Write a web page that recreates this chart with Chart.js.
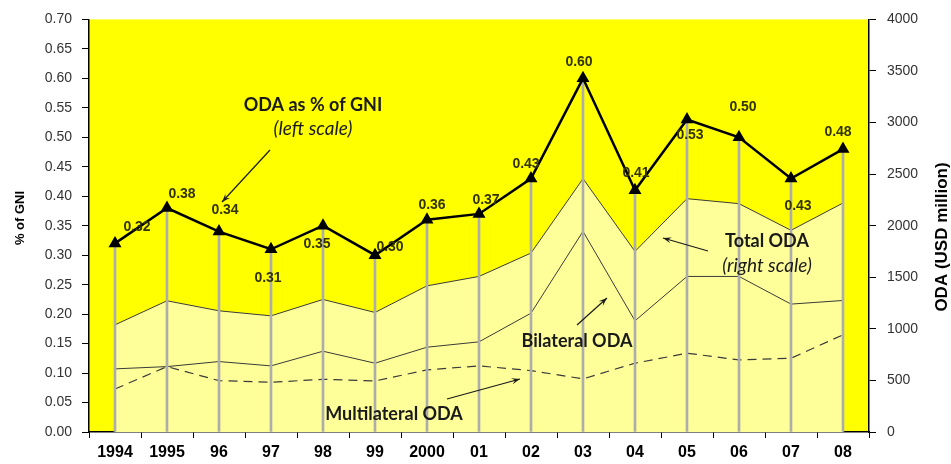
<!DOCTYPE html>
<html>
<head>
<meta charset="utf-8">
<script src="https://cdn.jsdelivr.net/npm/chart.js@4.4.1/dist/chart.umd.min.js"></script>
<style>
  body { margin: 0; background: #fff; }
  canvas { display: block; }
</style>
</head>
<body>
<canvas id="grafico" width="951" height="464"></canvas>
<script>
// data
const years = ["1994", "1995", "96", "97", "98", "99", "2000", "01", "02", "03", "04", "05", "06", "07", "08"];
const odaGni = [0.32, 0.38, 0.34, 0.31, 0.35, 0.30, 0.36, 0.37, 0.43, 0.60, 0.41, 0.53, 0.50, 0.43, 0.48];
const totalOda = [1039, 1272, 1175, 1126, 1285, 1159, 1417, 1508, 1735, 2456, 1751, 2262, 2214, 1955, 2220];
const bilateralOda = [612, 634, 683, 641, 783, 667, 822, 874, 1152, 1945, 1078, 1508, 1508, 1240, 1275];
const multilateralOda = [417, 634, 498, 482, 511, 495, 602, 641, 595, 515, 667, 764, 699, 715, 942];
const leftTicks = { min: 0, max: 0.7, step: 0.05 };
const rightTicks = { min: 0, max: 4000, step: 500 };

// where each % label sits relative to its point
const labelOffsets = [[22, -16], [15, -14], [6, -21], [-3, 29], [-6, 18], [15, -8], [5, -15], [7, -14],
  [-5, -14], [-4, -16], [1, -17], [3, 16], [4, -30], [7, 28], [-5, -17]];

const notas = [
  { text: "ODA as % of GNI", x: 313, y: 105, italic: false },
  { text: "(left scale)", x: 313, y: 129, italic: true },
  { text: "Total ODA", x: 767, y: 241, italic: false },
  { text: "(right scale)", x: 767, y: 266, italic: true },
  { text: "Bilateral ODA", x: 577, y: 341, italic: false },
  { text: "Multilateral ODA", x: 394, y: 414, italic: false }
];
const flechas = [
  [270, 150, 222, 202],
  [708, 251, 663, 238],
  [577, 325, 607, 298],
  [447, 399, 520, 379]
];

function flecha(ctx, x1, y1, x2, y2) {
  const a = Math.atan2(y2 - y1, x2 - x1);
  ctx.beginPath();
  ctx.moveTo(x1, y1);
  ctx.lineTo(x2, y2);
  ctx.stroke();
  ctx.beginPath();
  ctx.moveTo(x2, y2);
  ctx.lineTo(x2 - 9 * Math.cos(a - 0.35), y2 - 9 * Math.sin(a - 0.35));
  ctx.lineTo(x2 - 5 * Math.cos(a), y2 - 5 * Math.sin(a));
  ctx.lineTo(x2 - 9 * Math.cos(a + 0.35), y2 - 9 * Math.sin(a + 0.35));
  ctx.closePath();
  ctx.fill();
}

const fondo = {
  id: "fondo",
  beforeDraw(chart) {
    const { ctx, chartArea: a } = chart;
    ctx.save();
    ctx.fillStyle = "#ffff00";
    ctx.fillRect(a.left, a.top, a.right - a.left, a.bottom - a.top);
    ctx.restore();
  }
};

const textos = {
  id: "textos",
  afterDraw(chart) {
    const ctx = chart.ctx;
    const meta = chart.getDatasetMeta(4);
    ctx.save();
    // % labels
    ctx.font = "bold 14px 'Liberation Sans', Arial, sans-serif";
    ctx.fillStyle = "#333300";
    ctx.textAlign = "center";
    ctx.textBaseline = "middle";
    meta.data.forEach((p, i) => {
      ctx.fillText(odaGni[i].toFixed(2), p.x + labelOffsets[i][0], p.y + labelOffsets[i][1]);
    });
    // notes
    ctx.fillStyle = "#1a1a1a";
    notas.forEach(n => {
      ctx.font = (n.italic ? "italic 19px" : "bold 18px") + " Lato, 'Open Sans', sans-serif";
      ctx.fillText(n.text, n.x, n.y);
    });
    ctx.strokeStyle = "#1a1a1a";
    ctx.lineWidth = 1.2;
    flechas.forEach(f => flecha(ctx, f[0], f[1], f[2], f[3]));
    // axis titles
    ctx.fillStyle = "#000";
    ctx.font = "bold 13px 'Liberation Sans', Arial, sans-serif";
    ctx.translate(20, 218);
    ctx.rotate(-Math.PI / 2);
    ctx.fillText("% of GNI", 0, 0);
    ctx.setTransform(1, 0, 0, 1, 0, 0);
    ctx.font = "bold 17px 'Liberation Sans', Arial, sans-serif";
    ctx.translate(942, 237);
    ctx.rotate(-Math.PI / 2);
    ctx.fillText("ODA (USD million)", 0, 0);
    ctx.restore();
  }
};

const tickFont = { family: "'Liberation Sans', Arial, sans-serif", size: 14 };

new Chart(document.getElementById("grafico"), {
  data: {
    labels: years,
    datasets: [
      {
        type: "line", label: "Total ODA", data: totalOda, yAxisID: "y2", order: 5,
        borderColor: "#3a3a3a", borderWidth: 1, backgroundColor: "#ffff99",
        fill: "origin", pointRadius: 0, tension: 0
      },
      {
        type: "line", label: "Bilateral ODA", data: bilateralOda, yAxisID: "y2", order: 4,
        borderColor: "#3a3a3a", borderWidth: 1, fill: false, pointRadius: 0, tension: 0
      },
      {
        type: "line", label: "Multilateral ODA", data: multilateralOda, yAxisID: "y2", order: 3,
        borderColor: "#3a3a3a", borderWidth: 1.2, borderDash: [9, 6], fill: false, pointRadius: 0, tension: 0
      },
      {
        type: "bar", label: "drop", data: odaGni, yAxisID: "y", order: 2,
        backgroundColor: "#adadad", barThickness: 2
      },
      {
        type: "line", label: "ODA as % of GNI", data: odaGni, yAxisID: "y", order: 1,
        borderColor: "#000", borderWidth: 2.5, fill: false, tension: 0,
        pointStyle: "triangle", pointRadius: 5, pointBackgroundColor: "#000", pointBorderColor: "#000"
      }
    ]
  },
  options: {
    responsive: false,
    animation: false,
    layout: { padding: { top: 19, left: 0, right: 0, bottom: 0 } },
    plugins: { legend: { display: false }, tooltip: { enabled: false } },
    scales: {
      x: {
        offset: true,
        afterFit: s => { s.height = 32; },
        grid: { offset: true, drawOnChartArea: false, drawTicks: true, tickLength: 6, color: "#000" },
        border: { color: "#000", width: 1.5 },
        ticks: { color: "#000", padding: 5, maxRotation: 0, autoSkip: false,
          font: { family: tickFont.family, size: 16, weight: "bold" } }
      },
      y: {
        position: "left", min: leftTicks.min, max: leftTicks.max,
        afterFit: s => { s.width = 89; },
        grid: { drawOnChartArea: false, tickLength: 7, color: "#000" },
        border: { color: "#000", width: 1.5 },
        ticks: { stepSize: leftTicks.step, autoSkip: false, padding: 10, color: "#333",
          font: tickFont, callback: v => v.toFixed(2) }
      },
      y2: {
        position: "right", min: rightTicks.min, max: rightTicks.max,
        afterFit: s => { s.width = 82; },
        grid: { drawOnChartArea: false, tickLength: 7, color: "#000" },
        border: { color: "#000", width: 1.5 },
        ticks: { stepSize: rightTicks.step, autoSkip: false, padding: 11, color: "#333",
          font: tickFont, callback: v => String(v) }
      }
    }
  },
  plugins: [fondo, textos]
});
</script>
</body>
</html>
